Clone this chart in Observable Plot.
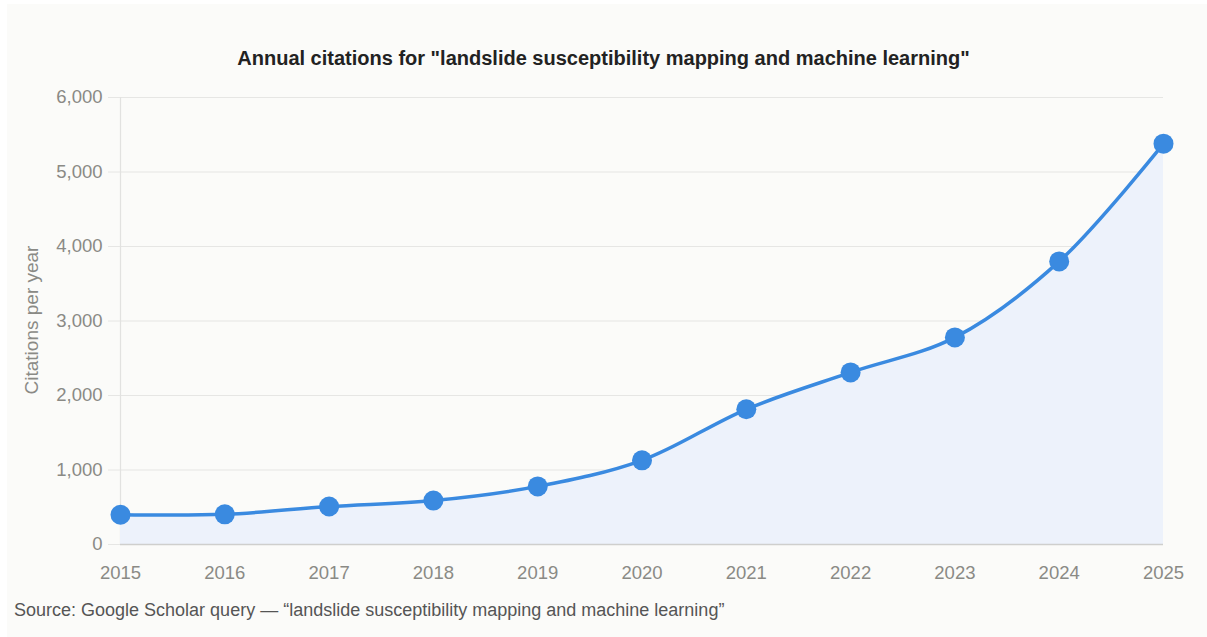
<!DOCTYPE html>
<html><head><meta charset="utf-8">
<script src="https://cdn.jsdelivr.net/npm/d3@7"></script>
<script src="https://cdn.jsdelivr.net/npm/@observablehq/plot@0.6"></script>
<style>
body{margin:0;background:#ffffff;font-family:"Liberation Sans",Arial,sans-serif;width:1207px;height:637px;overflow:hidden;position:relative;}
#panel{position:absolute;left:7px;top:4px;width:1200px;height:633px;background:#fbfbf9;}
#title{position:absolute;left:0;top:47px;width:1207px;text-align:center;font-weight:bold;font-size:20px;color:#222;}
#chart{position:absolute;left:0;top:80px;}
#ylabel{position:absolute;left:32px;top:320px;transform:translate(-50%,-50%) rotate(-90deg);white-space:nowrap;font-size:19px;color:#8a8a85;}
#caption{position:absolute;left:14px;top:600px;font-size:18px;color:#555;}
</style></head>
<body>
<div id="panel"></div>
<div id="title">Annual citations for "landslide susceptibility mapping and machine learning"</div>
<div id="chart"></div>
<div id="ylabel">Citations per year</div>
<div id="caption">Source: Google Scholar query — “landslide susceptibility mapping and machine learning”</div>
<script>
const years = [2015, 2016, 2017, 2018, 2019, 2020, 2021, 2022, 2023, 2024, 2025];
const citations = [400, 405, 510, 590, 780, 1130, 1815, 2310, 2780, 3800, 5380];
const yTicks = [0, 1000, 2000, 3000, 4000, 5000, 6000];
const data = years.map((y, i) => ({year: y, citations: citations[i]}));

const chart = Plot.plot({
  width: 1207, height: 520,
  marginTop: 17, marginBottom: 56, marginLeft: 120, marginRight: 44,
  style: {background: "transparent", fontFamily: "Liberation Sans, Arial, sans-serif", fontSize: "18.5px", color: "#8a8a85", overflow: "visible"},
  x: {domain: [2015, 2025]},
  y: {domain: [0, 6000]},
  marks: [
    Plot.gridY(yTicks, {stroke: "#e6e6e4", strokeOpacity: 1, strokeWidth: 1.2}),
    Plot.ruleX([2015], {stroke: "#e2e2e0", strokeWidth: 1.2}),
    Plot.areaY(data, {x: "year", y: "citations", fill: "#edf2fb", curve: "catmull-rom"}),
    Plot.ruleY([0], {stroke: "#cfcfcd", strokeWidth: 1.5}),
    Plot.lineY(data, {x: "year", y: "citations", stroke: "#3a8ae0", strokeWidth: 3.5, curve: "catmull-rom"}),
    Plot.dot(data, {x: "year", y: "citations", r: 10, fill: "#3a8ae0"}),
    Plot.axisY(yTicks, {tickSize: 12, tickPadding: 6, stroke: "#e6e6e4", fill: "#8a8a85", tickFormat: d3.format(","), label: null}),
    Plot.axisX(years, {tickSize: 0, tickPadding: 21, fill: "#8a8a85", tickFormat: d => String(d), label: null})
  ]
});
document.getElementById("chart").appendChild(chart);
</script>
</body></html>
